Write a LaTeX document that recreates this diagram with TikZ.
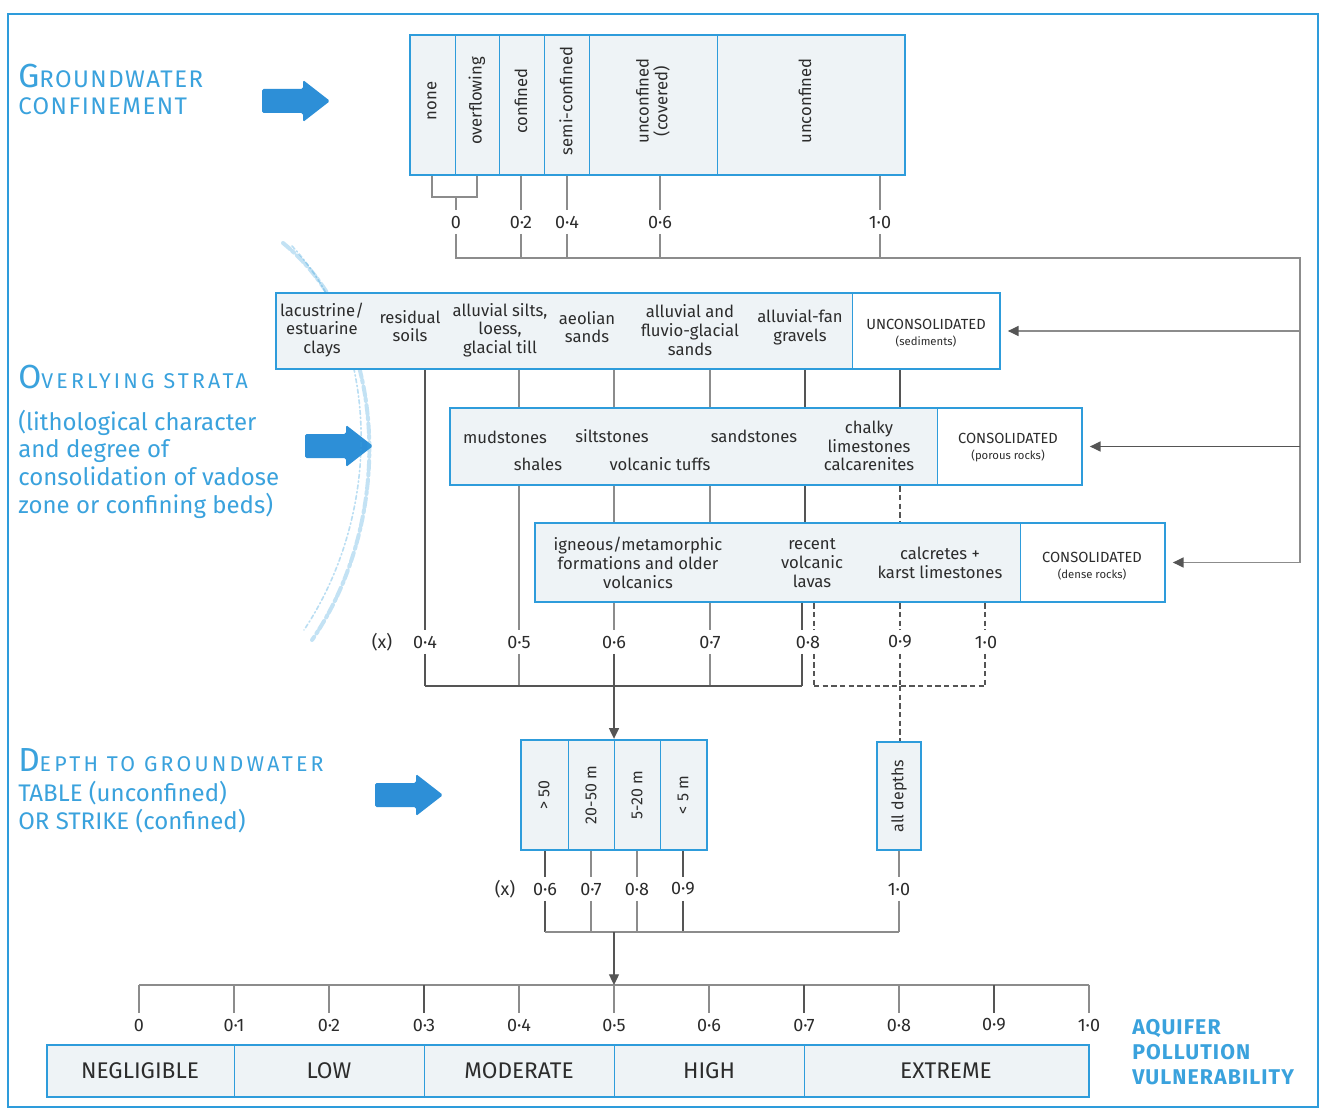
\documentclass[tikz,border=0pt]{standalone}
\usepackage{fontspec}
\setmainfont{Fira Sans}
\usetikzlibrary{arrows.meta,fit}
\definecolor{frameblue}{HTML}{2E9CDB}
\definecolor{titleblue}{HTML}{3AA2DD}
\definecolor{arrowblue}{HTML}{2D8FD7}
\definecolor{boxfill}{HTML}{EEF3F6}
\definecolor{inkgray}{HTML}{2C2C2C}
\definecolor{linegray}{HTML}{555555}
\definecolor{softgray}{HTML}{8C8C8C}
\newcommand{\cellfont}{\fontsize{12.5}{14}\selectfont}
\newcommand{\numfont}{\fontsize{13.5}{13.5}\selectfont}
\newcommand{\tagfont}{\fontsize{11}{12}\selectfont}
\newcommand{\subtagfont}{\fontsize{8.5}{10}\selectfont}
\newcommand{\initfont}{\fontsize{25}{25}\selectfont}
\newcommand{\headfont}{\fontsize{18}{18}\selectfont\addfontfeature{LetterSpace=6}}
\newcommand{\smallheadfont}{\fontsize{16}{16}\selectfont\addfontfeature{LetterSpace=15}}
\newcommand{\bodyfont}{\fontsize{18}{18}\selectfont}
\newcommand{\classfont}{\fontsize{17}{17}\selectfont}
\newcommand{\keyfont}{\bfseries\fontsize{16}{16}\selectfont\addfontfeature{LetterSpace=5}}
\begin{document}
\begin{tikzpicture}[x=0.75pt,y=-0.75pt,
  box/.style={draw=frameblue,line width=1.8pt,fill=boxfill,inner sep=0pt},
  div/.style={draw=frameblue,line width=0.6pt},
  cell/.style={font=\cellfont,text=inkgray,align=center,inner sep=1pt},
  vcell/.style={cell,rotate=90},
  tag/.style={font=\tagfont,text=inkgray,align=center,inner sep=1pt},
  num/.style={font=\numfont,text=inkgray,inner xsep=1pt,inner ysep=4pt},
  conn/.style={draw=linegray,line width=0.9pt},
  soft/.style={draw=softgray,line width=0.9pt},
  dconn/.style={conn,dash pattern=on 4pt off 2.5pt},
  tip/.style={-{Triangle[length=8pt,width=7.5pt,color=linegray]}},
  blockarrow/.pic={
    \fill[arrowblue,rounded corners=1.2pt]
      (0,-12) -- (41,-12) -- (41,-21) -- (68,0) -- (41,21) -- (41,12) -- (0,12) -- cycle;},
  title/.style={text=titleblue,anchor=base west,inner sep=0pt},
  class/.style={font=\classfont,text=inkgray}]

\useasboundingbox (0,0) rectangle (1323,1112);
\fill[white] (0,0) rectangle (1323,1112);
\draw[frameblue,line width=2.2pt] (8,14) rectangle (1318,1107);

% ---------- headings on the left ----------
\node[title] (gw1) at (18,88) {{\initfont G}{\headfont ROUNDWATER}};
\node[title] (gw2) at (18,115) {\headfont CONFINEMENT};
\node[title] (os1) at (18,388) {{\initfont O}{\smallheadfont VERLYING STRATA}};
\node[title] (os2) at (18,430) {\bodyfont (lithological character};
\node[title] (os3) at (18,457) {\bodyfont and degree of};
\node[title] (os4) at (18,485) {\bodyfont consolidation of vadose};
\node[title] (os5) at (18,513) {\bodyfont zone or confining beds)};
\node[title] (dp1) at (18,771) {{\initfont D}{\smallheadfont EPTH TO GROUNDWATER}};
\node[title] (dp2) at (18,801) {\bodyfont TABLE (unconfined)};
\node[title] (dp3) at (18,829) {\bodyfont OR STRIKE (confined)};

\pic at (262,101) {blockarrow};
\pic at (305,446) {blockarrow};
\pic at (375,795) {blockarrow};

% grainy stroke across the strata heading
\draw[titleblue,line width=3pt,opacity=0.3,line cap=round,
  dash pattern=on 7pt off 2pt on 2pt off 3pt]
  (283,243) .. controls (390,330) and (395,520) .. (312,640);
\draw[titleblue,line width=1.2pt,opacity=0.35,line cap=round,
  dash pattern=on 3pt off 2pt on 1pt off 2pt]
  (292,246) .. controls (380,340) and (384,510) .. (304,630);

% ---------- groundwater confinement ----------
\node[box,fit={(410,35) (905,175)}] (conf) {};
\foreach \x in {455,499,544,589,717} \draw[div] (\x,35) -- (\x,175);
\node[vcell] (c-none) at (432,101) {none};
\node[vcell] (c-over) at (477,101) {overflowing};
\node[vcell] (c-conf) at (521,101) {confined};
\node[vcell] (c-semi) at (566,101) {semi-confined};
\node[vcell] (c-covd) at (653,101) {unconfined\\(covered)};
\node[vcell] (c-unc) at (805,101) {unconfined};

\node[num] (t0) at (456,222) {0};
\node[num] (t2) at (521,222) {0·2};
\node[num] (t4) at (567,222) {0·4};
\node[num] (t6) at (660,222) {0·6};
\node[num] (t10) at (880,222) {1·0};
\coordinate (yA) at (0,197);
\coordinate (bus) at (1300,258);

\draw[soft] (conf.south -| c-none) -- (c-none |- yA) -| (conf.south -| c-over);
\draw[soft] (t0.north |- yA) -- (t0.north);
\foreach \t in {t2,t4,t6,t10} {
  \draw[soft] (conf.south -| \t) -- (\t.north);
  \draw[soft] (\t.south) -- (\t.south |- bus);
}

% ---------- overlying strata ----------
\node[box,fit={(276,293) (1000,369)}] (uncon) {};
\fill[white] (853,294.3) rectangle (998.7,367.7);
\draw[div] (852,293) -- (852,369);
\node[cell] (u1) at (322,330) {lacustrine/\\estuarine\\clays};
\node[cell] (u2) at (410,326) {residual\\soils};
\node[cell] (u3) at (500,330) {alluvial silts,\\loess,\\glacial till};
\node[cell] (u4) at (587,327) {aeolian\\sands};
\node[cell] (u5) at (690,330) {alluvial and\\fluvio-glacial\\sands};
\node[cell] (u6) at (800,327) {alluvial-fan\\gravels};
\node[tag] (u7) at (926,333) {UNCONSOLIDATED\\{\subtagfont (sediments)}};

\node[box,fit={(450,408) (1082,485)}] (cpor) {};
\fill[white] (938,409.3) rectangle (1080.7,483.7);
\draw[div] (937,408) -- (937,485);
\node[cell] (p1) at (505,437) {mudstones};
\node[cell] (p2) at (612,436) {siltstones};
\node[cell] (p3) at (754,436) {sandstones};
\node[cell] (p4) at (538,464) {shales};
\node[cell] (p5) at (660,464) {volcanic tuffs};
\node[cell] (p6) at (869,446) {chalky\\limestones\\calcarenites};
\node[tag] (p7) at (1008,448) {CONSOLIDATED\\{\subtagfont (porous rocks)}};

\node[box,fit={(535,523) (1165,602)}] (cden) {};
\fill[white] (1021,524.3) rectangle (1163.7,600.7);
\draw[div] (1020,523) -- (1020,602);
\node[cell] (d1) at (638,563) {igneous/metamorphic\\formations and older\\volcanics};
\node[cell] (d2) at (812,563) {recent\\volcanic\\lavas};
\node[cell] (d3) at (940,563) {calcretes +\\karst limestones};
\node[tag] (d4) at (1092,566) {CONSOLIDATED\\{\subtagfont (dense rocks)}};

% feed from the confinement scale into the three strata rows
\draw[soft] (t0.south) -- (t0.south |- bus) -- (bus) -- (bus |- cden.east);
\draw[soft,tip,shorten >=5pt] (bus |- uncon.east) -- (uncon.east);
\draw[conn,tip,shorten >=5pt] (bus |- cpor.east) -- (cpor.east);
\draw[soft,tip,shorten >=5pt] (bus |- cden.east) -- (cden.east);

% strata factor scale
\node[num] (mx) at (382,642) {(x)};
\node[num] (m04) at (425,642) {0·4};
\node[num] (m05) at (519,642) {0·5};
\node[num] (m06) at (614,642) {0·6};
\node[num] (m07) at (710,642) {0·7};
\node[num] (m08) at (808,642) {0·8};
\node[num] (m09) at (900,642) {0·9};
\node[num] (m10) at (986,642) {1·0};
\coordinate (k4) at (425,686);
\coordinate (k5) at (519,686);
\coordinate (k6) at (614,686);
\coordinate (k7) at (710,686);
\coordinate (k8) at (805,686);
\coordinate (k8s) at (802,686);
\coordinate (k8d) at (814,686);
\coordinate (k9) at (900,686);
\coordinate (k10) at (985,686);

\draw[conn] (uncon.south -| k4) -- (m04.north -| k4);
\draw[conn] (m04.south -| k4) -- (k4);
\draw[soft] (uncon.south -| k5) -- (cpor.north -| k5);
\draw[soft] (cpor.south -| k5) -- (m05.north -| k5);
\draw[soft] (m05.south -| k5) -- (k5);
\foreach \k in {k6,k7} {
  \draw[soft] (uncon.south -| \k) -- (cpor.north -| \k);
  \draw[soft] (cpor.south -| \k) -- (cden.north -| \k);
}
\draw[soft] (cden.south -| k6) -- (m06.north -| k6);
\draw[conn] (m06.south -| k6) -- (k6);
\draw[soft] (cden.south -| k7) -- (m07.north -| k7);
\draw[soft] (m07.south -| k7) -- (k7);
\draw[conn] (uncon.south -| k8) -- (cpor.north -| k8);
\draw[conn] (cpor.south -| k8) -- (cden.north -| k8);
\draw[conn] (cden.south -| k8s) -- (m08.north -| k8s);
\draw[conn] (m08.south -| k8s) -- (k8s);
\draw[dconn] (cden.south -| k8d) -- (m08.north -| k8d);
\draw[dconn] (m08.south -| k8d) -- (k8d);
\draw[conn] (uncon.south -| k9) -- (cpor.north -| k9);
\draw[dconn] (cpor.south -| k9) -- (cden.north -| k9);
\draw[dconn] (cden.south -| k9) -- (m09.north -| k9);
\draw[dconn] (m09.south -| k9) -- (k9);
\draw[dconn] (cden.south -| k10) -- (m10.north -| k10);
\draw[dconn] (m10.south -| k10) -- (k10);
\draw[conn] (k4) -- (k8s);
\draw[dconn] (k8d) -- (k10);

% ---------- depth to groundwater ----------
\node[box,fit={(521,740) (707,850)}] (depth) {};
\foreach \x in {568,614,660} \draw[div] (\x,740) -- (\x,850);
\node[vcell,font=\fontsize{12}{13}\selectfont] (h1) at (544,795) {> 50};
\node[vcell,font=\fontsize{12}{13}\selectfont] (h2) at (591,795) {20-50 m};
\node[vcell,font=\fontsize{12}{13}\selectfont] (h3) at (637,795) {5-20 m};
\node[vcell,font=\fontsize{12}{13}\selectfont] (h4) at (683,795) {< 5 m};
\node[box,fit={(877,742) (921,850)}] (alld) {};
\node[vcell,font=\fontsize{12}{13}\selectfont] (h5) at (899,796) {all depths};

\draw[conn,tip] (k6) -- (depth.north -| k6);
\draw[dconn] (k9) -- (alld.north -| k9);

\node[num] (nx) at (505,889) {(x)};
\node[num] (n06) at (545,889) {0·6};
\node[num] (n07) at (591,889) {0·7};
\node[num] (n08) at (637,889) {0·8};
\node[num] (n09) at (683,889) {0·9};
\node[num] (n10) at (899,889) {1·0};
\coordinate (busB) at (614,932);
\draw[conn] (depth.south -| n06) -- (n06.north);
\draw[conn] (n06.south) -- (n06.south |- busB);
\draw[conn] (depth.south -| n09) -- (n09.north);
\draw[conn] (n09.south) -- (n09.south |- busB);
\foreach \n in {n07,n08} {
  \draw[soft] (depth.south -| \n) -- (\n.north);
  \draw[soft] (\n.south) -- (\n.south |- busB);
}
\draw[soft] (alld.south -| n10) -- (n10.north);
\draw[soft] (n10.south) -- (n10.south |- busB);
\draw[soft] (n06.south |- busB) -- (n10.south |- busB);

% ---------- vulnerability scale ----------
\coordinate (s0) at (139,985);
\coordinate (s10) at (1089,985);
\draw[soft] (s0) -- (s10);
\foreach \i in {0,...,10} {
  \coordinate (sx\i) at ({139+95*\i},985);
  \ifnum\i=0 \def\lab{0}\else\ifnum\i=10 \def\lab{1·0}\else\def\lab{0·\i}\fi\fi
  \node[num] (sl\i) at ({139+95*\i},1025) {\lab};
}
\foreach \i in {0,1,2,4,5,6,8,10} \draw[soft] (sx\i) -- (sl\i.north);
\foreach \i in {3,7,9} \draw[conn] (sx\i) -- (sl\i.north);
\draw[conn,tip] (busB) -- (sx5);

\node[box,fit={(47,1045) (1089,1097)}] (vul) {};
\foreach \x in {234,424,614,804} \draw[div] (\x,1045) -- (\x,1097);
\node[class] (v1) at (140,1071) {NEGLIGIBLE};
\node[class] (v2) at (329,1071) {LOW};
\node[class] (v3) at (519,1071) {MODERATE};
\node[class] (v4) at (709,1071) {HIGH};
\node[class] (v5) at (946,1071) {EXTREME};

\node[title,font=\keyfont] (k1) at (1132,1034) {AQUIFER};
\node[title,font=\keyfont] (k2) at (1132,1059) {POLLUTION};
\node[title,font=\keyfont] (k3) at (1132,1084) {VULNERABILITY};
\end{tikzpicture}
\end{document}
